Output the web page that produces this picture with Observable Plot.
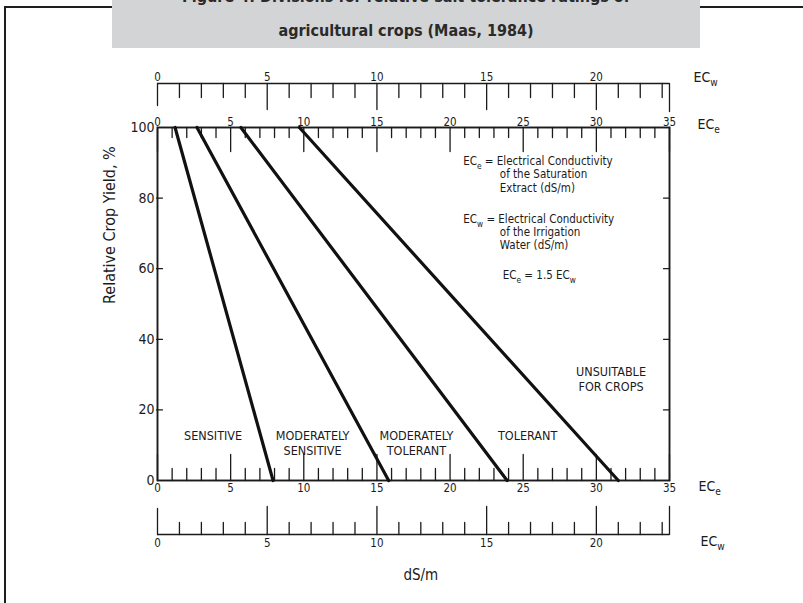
<!DOCTYPE html>
<html>
<head>
<meta charset="utf-8">
<script src="https://cdn.jsdelivr.net/npm/d3@7"></script>
<script src="https://cdn.jsdelivr.net/npm/@observablehq/plot@0.6"></script>
<style>
html,body{margin:0;padding:0;background:#fff}
#wrap{position:relative;width:803px;height:603px;overflow:hidden;background:#fff}
#border{position:absolute;left:4px;top:6px;width:1000px;height:1000px;border-top:2px solid #1e1e1e;border-left:2px solid #1e1e1e;pointer-events:none;z-index:2}
#title{position:absolute;left:112px;top:0;width:588px;height:48px;background:#d3d4d6;z-index:3;overflow:hidden;font-family:"Liberation Sans Narrow","DejaVu Sans Condensed",sans-serif;font-weight:700;font-size:16px;color:#2a2a2a;text-align:center}
#title .l{position:absolute;left:0;right:0;line-height:17px;white-space:nowrap}
#chart{position:absolute;left:0;top:48px;z-index:1}
</style>
</head>
<body>
<div id="wrap">
  <div id="border"></div>
  <div id="title">
    <div class="l" style="top:-12px">Figure 4: Divisions for relative salt tolerance ratings of</div>
    <div class="l" style="top:22px">agricultural crops (Maas, 1984)</div>
  </div>
  <div id="chart"></div>
</div>
<script>
// ---- data ----
const zones = ["Sensitive", "Moderately sensitive", "Moderately tolerant", "Tolerant"];
const eceAt100 = [1.2, 2.7, 5.7, 9.7];     // ECe (dS/m) where yield = 100 %
const eceAt0 = [7.9, 15.8, 23.9, 31.5];    // ECe (dS/m) where yield = 0 %
const yieldTicks = [0, 20, 40, 60, 80, 100];
const eceTickLabels = [0, 5, 10, 15, 20, 25, 30, 35];
const ecwTickLabels = [0, 5, 10, 15, 20];
const eceMax = 35;
const ecePerEcw = 1.5;                      // ECe = 1.5 ECw
const ecwMax = eceMax / ecePerEcw;

const zoneLabels = [
  {text: "SENSITIVE", ece: 3.8, yld: 12.6},
  {text: "MODERATELY", ece: 10.6, yld: 12.6},
  {text: "SENSITIVE", ece: 10.6, yld: 8.4},
  {text: "MODERATELY", ece: 17.7, yld: 12.6},
  {text: "TOLERANT", ece: 17.7, yld: 8.4},
  {text: "TOLERANT", ece: 25.3, yld: 12.6},
  {text: "UNSUITABLE", ece: 31.0, yld: 30.8},
  {text: "FOR CROPS", ece: 31.0, yld: 26.6}
];
const legendLines = [
  {text: "EC_e = Electrical Conductivity", ece: 20.9, yld: 90.3},
  {text: "of the Saturation", ece: 23.4, yld: 86.6},
  {text: "Extract (dS/m)", ece: 23.4, yld: 82.9},
  {text: "EC_w = Electrical Conductivity", ece: 20.9, yld: 74.0},
  {text: "of the Irrigation", ece: 23.4, yld: 70.3},
  {text: "Water (dS/m)", ece: 23.4, yld: 66.6},
  {text: "EC_e = 1.5 EC_w", ece: 23.6, yld: 58.1}
];

// ---- derived tables ----
const lineData = zones.flatMap((z, i) => [
  {zone: z, ece: eceAt100[i], yld: 100},
  {zone: z, ece: eceAt0[i], yld: 0}
]);
const eceMinor = d3.range(0, eceMax + 1);
const ecwMinor = d3.range(0, Math.floor(ecwMax) + 1).concat([ecwMax]);
const innerY = yieldTicks.filter(d => d > 0 && d < 100);

const ink = "#1b1b1b";
const tick = (o) => ({stroke: ink, strokeWidth: 1.3, r: 0, anchor: "start", ...o});

const plot = Plot.plot({
  width: 803,
  height: 555,
  marginTop: 79,
  marginBottom: 123,
  marginLeft: 157,
  marginRight: 134,
  x: {domain: [0, eceMax], axis: null},
  y: {domain: [0, 100], axis: null},
  style: {fontFamily: "'DejaVu Sans Condensed', 'DejaVu Sans', sans-serif", color: ink, background: "transparent"},
  marks: [
    Plot.frame({stroke: ink, strokeWidth: 1.9}),
    // top ECe ticks (inside, pointing down)
    Plot.vector(eceMinor, tick({x: d => d, frameAnchor: "top", rotate: 180, length: d => d % 5 === 0 ? 12 : 5})),
    // bottom ECe ticks (inside, pointing up)
    Plot.vector(eceMinor, tick({x: d => d, frameAnchor: "bottom", rotate: 0, length: d => d % 5 === 0 ? 13 : 6})),
    // y ticks left & right (inside)
    Plot.vector(innerY, tick({y: d => d, frameAnchor: "left", rotate: 90, length: 6, dx: -1})),
    Plot.vector(innerY, tick({y: d => d, frameAnchor: "right", rotate: -90, length: 6})),
    // top ECw scale
    Plot.ruleY([100], {x1: 0, x2: ecwMax * ecePerEcw, dy: -44, stroke: ink, strokeWidth: 1.5}),
    Plot.vector(ecwMinor, tick({x: d => d * ecePerEcw, frameAnchor: "top", dy: -44, rotate: 180,
      length: d => d === 0 ? 11 : d === ecwMax ? 14 : d % 5 === 0 ? 13 : 7})),
    // bottom ECw scale
    Plot.ruleY([0], {x1: 0, x2: ecwMax * ecePerEcw, dy: 54, stroke: ink, strokeWidth: 1.5}),
    Plot.vector(ecwMinor, tick({x: d => d * ecePerEcw, frameAnchor: "bottom", dy: 54, rotate: 0,
      length: d => d === 0 ? 13 : d === ecwMax ? 14 : d % 5 === 0 ? 14 : 6})),
    // tick labels
    Plot.text(eceTickLabels, {x: d => d, frameAnchor: "top", dy: -10, text: d => String(d), fontSize: 11.5, fill: ink}),
    Plot.text(eceTickLabels, {x: d => d, frameAnchor: "bottom", dy: 11, text: d => String(d), fontSize: 11.5, fill: ink}),
    Plot.text(ecwTickLabels, {x: d => d * ecePerEcw, frameAnchor: "top", dy: -55, text: d => String(d), fontSize: 11.5, fill: ink}),
    Plot.text(ecwTickLabels, {x: d => d * ecePerEcw, frameAnchor: "bottom", dy: 66, text: d => String(d), fontSize: 11.5, fill: ink}),
    Plot.text(yieldTicks, {y: d => d, frameAnchor: "left", dx: -3, textAnchor: "end", text: d => String(d), fontSize: 14, fill: ink}),
    // scale names
    Plot.text(["EC_w"], {x: eceMax, frameAnchor: "top", dy: -55, dx: 24, textAnchor: "start", fontSize: 14, fill: ink}),
    Plot.text(["EC_e"], {x: eceMax, frameAnchor: "top", dy: -8, dx: 28, textAnchor: "start", fontSize: 14, fill: ink}),
    Plot.text(["EC_e"], {x: eceMax, frameAnchor: "bottom", dy: 10, dx: 29, textAnchor: "start", fontSize: 14, fill: ink}),
    Plot.text(["EC_w"], {x: eceMax, frameAnchor: "bottom", dy: 65, dx: 31, textAnchor: "start", fontSize: 14, fill: ink}),
    Plot.text(["dS/m"], {x: 18, frameAnchor: "bottom", dy: 99, fontSize: 15, fill: ink}),
    Plot.text(["Relative Crop Yield, %"], {y: 50, frameAnchor: "left", dx: -48, rotate: -90, fontSize: 16, fill: ink}),
    // the division lines
    Plot.line(lineData, {x: "ece", y: "yld", z: "zone", stroke: "#111", strokeWidth: 3.2}),
    // annotations
    Plot.text(zoneLabels, {x: "ece", y: "yld", text: "text", fontSize: 12.5, fill: ink}),
    Plot.text(legendLines, {x: "ece", y: "yld", text: "text", textAnchor: "start", fontSize: 11.5, fill: ink})
  ]
});

// render "_x" as a subscript
d3.select(plot).selectAll("text").each(function () {
  const t = this.textContent;
  if (!t.includes("_")) return;
  const sel = d3.select(this);
  sel.text(null);
  const parts = t.split(/_(\w)/);
  parts.forEach((p, i) => {
    if (i % 2 === 1) sel.append("tspan").attr("dy", 4).attr("font-size", "72%").text(p);
    else if (p) sel.append("tspan").attr("dy", i > 0 ? -4 : 0).text(p);
  });
});

document.getElementById("chart").appendChild(plot);
</script>
</body>
</html>
